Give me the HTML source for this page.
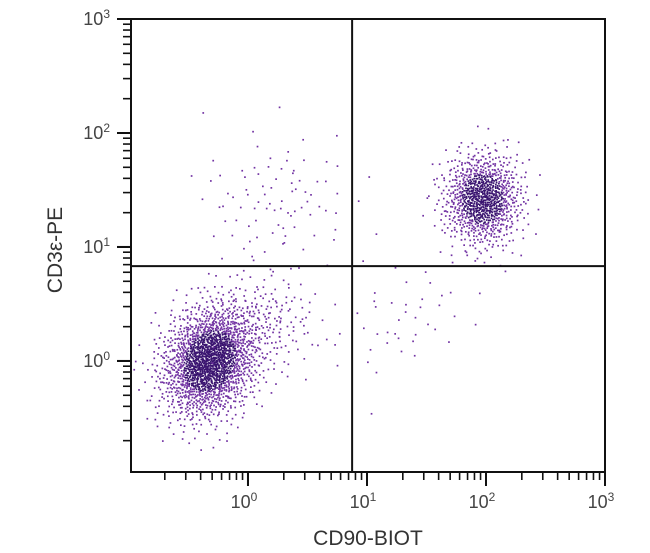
<!DOCTYPE html>
<html><head><meta charset="utf-8"><style>
body{margin:0;background:#fff;}
svg{display:block;font-family:"Liberation Sans",sans-serif;}
</style></head><body>
<svg id="chart" width="650" height="553" viewBox="0 0 650 553">
<g id="dots"></g>
<g id="axes"></g>
</svg>
<script>
// Axis domain (log10 units)
const xDecades = [0, 1, 2, 3];
const yDecades = [0, 1, 2, 3];
const xTickLabels = ["10", "10", "10", "10"];
const xTickExps = ["0", "1", "2", "3"];
const yTickExps = ["0", "1", "2", "3"];
const quadrantX = [7.5];
const quadrantY = [6.8];
// Populations: centre (log10 x, log10 y), spread (log10), event counts
const popNames = ["cd3-neg-cd90-neg", "cd3-pos-cd90-pos", "upper-left-scatter", "lower-right-scatter", "left-tail"];
const popCx = [-0.32, 1.97, 0.25, 1.30, 0.15];
const popCy = [0.00, 1.42, 1.40, 0.35, 0.35];
const popSx = [0.20, 0.16, 0.35, 0.35, 0.22];
const popSy = [0.24, 0.20, 0.30, 0.25, 0.22];
const popN = [1900, 1000, 90, 45, 160];

const X0 = 131, X1 = 605, Y0 = 472, Y1 = 19;
const xMin = -0.983, xMax = 3, yMin = -0.974, yMax = 3;
const sx = v => X0 + (v - xMin) / (xMax - xMin) * (X1 - X0);
const sy = v => Y0 - (v - yMin) / (yMax - yMin) * (Y0 - Y1);
const NS = "http://www.w3.org/2000/svg";
function mk(tag, attrs, parent){const e=document.createElementNS(NS,tag);for(const k in attrs)e.setAttribute(k,attrs[k]);parent.appendChild(e);return e;}

// deterministic low-discrepancy sequence (Halton) -> Gaussian via Box-Muller
function halton(i, b){let f=1,r=0;while(i>0){f/=b;r+=f*(i%b);i=Math.floor(i/b);}return r;}

const dots = document.getElementById('dots');
let k = 1;
for (let p = 0; p < popNames.length; p++) {
  const g = mk('g', {}, dots);
  
  
  for (let i = 0; i < popN[p]; i++, k++) {
    const u1 = Math.max(halton(k, 2), 0.004), u2 = halton(k, 3);
    const r = Math.min(Math.sqrt(-2 * Math.log(u1)), 3.2);
    const u = r * Math.cos(2 * Math.PI * u2), v = r * Math.sin(2 * Math.PI * u2);
    let lx = popCx[p] + u * popSx[p];
    let ly = popCy[p] + v * popSy[p] + (p === 3 ? u * 0.15 : 0) + (p === 0 ? u * 0.05 : 0);
    const px = sx(lx), py = sy(ly);
    if (px < X0 + 2 || px > X1 - 2 || py < Y1 + 2 || py > Y0 - 2) continue;
    mk('rect', {x: px - 0.8, y: py - 0.8, width: 1.7, height: 1.7, fill: (p < 2 && r < 1.1) ? '#3a1470' : '#7233a3'}, g);
  }
}

const ax = document.getElementById('axes');
const frame = mk('rect', {x: X0, y: Y1, width: X1 - X0, height: Y0 - Y1, fill: 'none', stroke: '#111', 'stroke-width': 2}, ax);


const qv = mk('line', {x1: sx(Math.log10(quadrantX[0])), x2: sx(Math.log10(quadrantX[0])), y1: Y1, y2: Y0, stroke: '#111', 'stroke-width': 2}, ax);


const qh = mk('line', {x1: X0, x2: X1, y1: sy(Math.log10(quadrantY[0])), y2: sy(Math.log10(quadrantY[0])), stroke: '#111', 'stroke-width': 2}, ax);



for (let d = -1; d < 3; d++) {
  for (let m = 1; m <= 10; m++) {
    const lv = d + Math.log10(m);
    const major = m === 1 || m === 10;
    if (lv >= xMin - 1e-6 && lv <= xMax + 1e-6) {
      mk('line', {x1: sx(lv), x2: sx(lv), y1: Y0, y2: Y0 + (major ? 14 : 8), stroke: '#111', 'stroke-width': major ? 2 : 1.6}, ax);
    }
    if (lv >= yMin - 1e-6 && lv <= yMax + 1e-6) {
      mk('line', {x1: X0, x2: X0 - (major ? 14 : 8), y1: sy(lv), y2: sy(lv), stroke: '#111', 'stroke-width': major ? 2 : 1.6}, ax);
    }
  }
}
xDecades.forEach((d, i) => {
  const t = mk('text', {x: sx(d) - 4, y: 508, 'text-anchor': 'middle', 'font-size': 18, fill: '#444'}, ax);
  
  
  t.textContent = xTickLabels[i];
  const s = mk('tspan', {dy: -7, 'font-size': 12}, t); s.textContent = xTickExps[i];
});
yDecades.forEach((d, i) => {
  const t = mk('text', {x: 110, y: sy(d) + 6, 'text-anchor': 'end', 'font-size': 18, fill: '#444'}, ax);
  
  
  t.textContent = "10";
  const s = mk('tspan', {dy: -7, 'font-size': 12}, t); s.textContent = yTickExps[i];
});
const xt = mk('text', {x: 368, y: 545, 'text-anchor': 'middle', 'font-size': 21, fill: '#333'}, ax);


xt.textContent = 'CD90-BIOT';
const yt = mk('text', {x: 0, y: 0, 'text-anchor': 'middle', 'font-size': 21, fill: '#333', transform: 'translate(62,250) rotate(-90)'}, ax);


yt.textContent = 'CD3ε-PE';
</script>
</body></html>
